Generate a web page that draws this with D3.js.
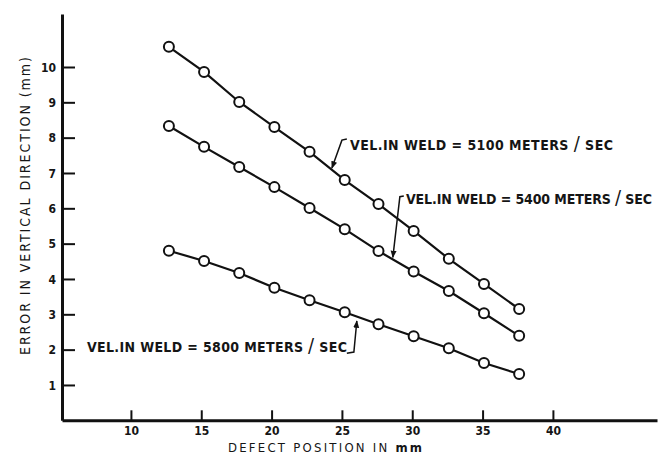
<!DOCTYPE html>
<html>
<head>
<meta charset="utf-8">
<script src="https://cdn.jsdelivr.net/npm/d3@7"></script>
<style>
    body { margin: 0; background: #fff; }
    svg { display: block; }
    text { fill: #151515; font-family: "DejaVu Sans Condensed", "DejaVu Sans", sans-serif; }
    .tick-label { font-size: 12px; font-weight: bold; }
    .axis-title { font-size: 13px; }
    .y-title { font-size: 14px; }
    .note { font-size: 14px; font-weight: bold; }
</style>
</head>
<body>
<div id="chart"></div>
<script>
'use strict';

// defect position (mm)
var positions = [12.7, 15.2, 17.7, 20.2, 22.7, 25.2, 27.6, 30.1, 32.6, 35.1, 37.6];

// error in vertical direction (mm)
var vel5100 = [10.57, 9.86, 9.01, 8.30, 7.60, 6.80, 6.12, 5.36, 4.57, 3.86, 3.15];
var vel5400 = [8.33, 7.74, 7.17, 6.60, 6.01, 5.41, 4.79, 4.21, 3.66, 3.03, 2.39];
var vel5800 = [4.80, 4.51, 4.17, 3.75, 3.40, 3.06, 2.72, 2.38, 2.04, 1.62, 1.31];

var xTicks = [10, 15, 20, 25, 30, 35, 40];
var yTicks = [1, 2, 3, 4, 5, 6, 7, 8, 9, 10];

var labels = ['VEL.IN WELD = 5100 METERS / SEC',
    'VEL.IN WELD = 5400 METERS / SEC',
    'VEL.IN WELD = 5800 METERS / SEC'];

var width = 665,
    height = 457;

var x = d3.scaleLinear().domain([5.1, 47.4]).range([62, 657]);
var y = d3.scaleLinear().domain([0, 11.5]).range([420.3, 14]);

var svg = d3.select('#chart').append('svg')
    .attr('width', width)
    .attr('height', height);

// axes
var xAxis = d3.axisBottom(x)
    .tickValues(xTicks)
    .tickSizeInner(-10)
    .tickSizeOuter(0)
    .tickPadding(9);

var yAxis = d3.axisLeft(y)
    .tickValues(yTicks)
    .tickSizeInner(-13)
    .tickSizeOuter(0)
    .tickPadding(6);

var gx = svg.append('g')
    .attr('transform', 'translate(0,' + y(0) + ')')
    .call(xAxis);

var gy = svg.append('g')
    .attr('transform', 'translate(' + x(5.1) + ',0)')
    .call(yAxis);

[gx, gy].forEach(function(g) {
    g.select('.domain').attr('stroke', '#111').attr('stroke-width', 3);
    g.selectAll('.tick line').attr('stroke', '#111').attr('stroke-width', 2);
    g.selectAll('.tick text')
        .attr('class', 'tick-label')
        .attr('font-family', null)
        .attr('font-size', null);
});

gx.selectAll('.tick text').attr('dy', '0.45em');
gy.selectAll('.tick text').attr('dy', '0.36em');

svg.append('text')
    .attr('class', 'axis-title')
    .attr('x', 228)
    .attr('y', 452)
    .attr('textLength', 194)
    .attr('lengthAdjust', 'spacing')
    .text('DEFECT POSITION IN ')
    .append('tspan')
    .attr('font-weight', 'bold')
    .text('mm');

svg.append('text')
    .attr('class', 'y-title')
    .attr('transform', 'translate(30,355) rotate(-90)')
    .attr('textLength', 298)
    .attr('lengthAdjust', 'spacing')
    .text('ERROR IN VERTICAL DIRECTION (mm)');

// series
var line = d3.line()
    .x(function(d) { return x(d[0]); })
    .y(function(d) { return y(d[1]); });

[vel5100, vel5400, vel5800].forEach(function(values) {
    var pts = positions.map(function(p, i) { return [p, values[i]]; });

    svg.append('path')
        .datum(pts)
        .attr('d', line)
        .attr('fill', 'none')
        .attr('stroke', '#111')
        .attr('stroke-width', 2.2);

    svg.append('g').selectAll('circle')
        .data(pts)
        .enter().append('circle')
        .attr('cx', function(d) { return x(d[0]); })
        .attr('cy', function(d) { return y(d[1]); })
        .attr('r', 5)
        .attr('fill', '#fff')
        .attr('stroke', '#111')
        .attr('stroke-width', 2);
});

// labels with leader lines, in data units
var notes = [
    {text: labels[0], at: [25.57, 7.65], len: 263,
        leader: [[25.35, 7.96], [25.0, 7.93], [24.29, 7.14]]},
    {text: labels[1], at: [29.55, 6.12], len: 246,
        leader: [[29.4, 6.35], [29.12, 6.33], [28.62, 4.61]]},
    {text: labels[2], at: [6.87, 1.94], len: 260,
        leader: [[25.35, 1.90], [25.85, 1.93], [26.06, 2.81]]}
];

svg.append('defs').append('marker')
    .attr('id', 'arrow')
    .attr('viewBox', '0 0 10 10')
    .attr('refX', 9)
    .attr('refY', 5)
    .attr('markerWidth', 5)
    .attr('markerHeight', 5)
    .attr('orient', 'auto')
    .append('path')
    .attr('d', 'M0,1 L10,5 L0,9 Z')
    .attr('fill', '#111');

notes.forEach(function(n) {
    var parts = n.text.split('/');
    var t = svg.append('text')
        .attr('class', 'note')
        .attr('x', x(n.at[0]))
        .attr('y', y(n.at[1]))
        .attr('textLength', n.len)
        .attr('lengthAdjust', 'spacing');
    t.append('tspan').text(parts[0]);
    t.append('tspan').attr('font-size', 20).attr('font-weight', 'normal').text('/');
    t.append('tspan').text(parts[1]);

    svg.append('path')
        .datum(n.leader)
        .attr('d', d3.line()
            .x(function(d) { return x(d[0]); })
            .y(function(d) { return y(d[1]); }))
        .attr('fill', 'none')
        .attr('stroke', '#111')
        .attr('stroke-width', 1.5)
        .attr('marker-end', 'url(#arrow)');
});
</script>
</body>
</html>
